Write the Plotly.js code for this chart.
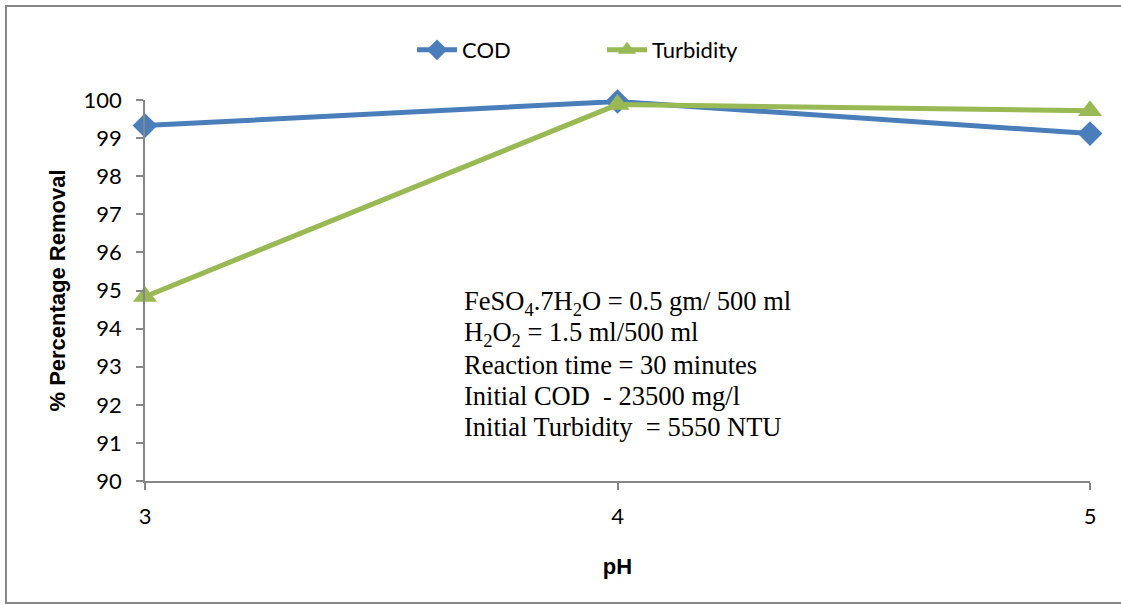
<!DOCTYPE html>
<html>
<head>
<meta charset="utf-8">
<script src="https://cdn.plot.ly/plotly-3.0.1.min.js"></script>
<style>
html,body{margin:0;padding:0;background:#fff;overflow:hidden;}
#wrap{position:relative;width:1121px;height:605px;overflow:hidden;}
#chart{position:absolute;left:0;top:0;width:1121px;height:605px;}
#frame{position:absolute;left:5px;top:5px;width:1125px;height:599px;border:2px solid #868686;box-sizing:border-box;pointer-events:none;}
</style>
</head>
<body>
<div id="wrap"><div id="chart"></div><div id="frame"></div></div>
<script>
const pH = [3, 4, 5];
const codRemoval = [99.33, 99.96, 99.12];
const turbidityRemoval = [94.84, 99.88, 99.72];
const yTicks = [90, 91, 92, 93, 94, 95, 96, 97, 98, 99, 100];
const xTicks = [3, 4, 5];
const noteLines = [
  'FeSO<sub>4</sub>.7H<sub>2</sub>O = 0.5 gm/ 500 ml',
  'H<sub>2</sub>O<sub>2</sub> = 1.5 ml/500 ml',
  'Reaction time = 30 minutes',
  'Initial COD  - 23500 mg/l',
  'Initial Turbidity  = 5550 NTU'
];

const traces = [
  {x: pH, y: codRemoval, name: 'COD', type: 'scatter', mode: 'lines+markers', cliponaxis: false,
   line: {color: '#4a7ebb', width: 5},
   marker: {symbol: 'diamond', size: 19, color: '#4a7ebb'}},
  {x: pH, y: turbidityRemoval, name: 'Turbidity', type: 'scatter', mode: 'lines+markers', cliponaxis: false,
   line: {color: '#98b954', width: 5},
   marker: {symbol: 'triangle-up', size: 21, color: '#98b954'}}
];

const annotations = noteLines.map((t, i) => ({
  xref: 'paper', yref: 'paper', x: (462 - 145) / 945, y: (481 - 303 - i * 31) / 381,
  xanchor: 'left', yanchor: 'middle', showarrow: false, align: 'left',
  text: t, font: {family: 'Liberation Serif, Times New Roman, serif', size: 26.5, color: '#000'}
}));

const tickFont = {size: 22, family: 'Lato, Open Sans, sans-serif', color: '#000'};

const layout = {
  width: 1121, height: 605,
  margin: {l: 145, r: 31, t: 100, b: 124},
  paper_bgcolor: '#fff', plot_bgcolor: '#fff',
  font: {family: 'Liberation Sans, Arial, sans-serif', color: '#000'},
  showlegend: true,
  legend: {orientation: 'h', x: (412 - 145) / 945, xanchor: 'left', y: (481 - 50) / 381, yanchor: 'middle',
           font: {size: 22, family: 'Lato, Open Sans, sans-serif', color: '#000'},
           entrywidth: 135, entrywidthmode: 'pixels', itemwidth: 40, bgcolor: 'rgba(0,0,0,0)'},
  xaxis: {range: [3, 5], tickvals: xTicks, ticktext: xTicks.map(String),
          showgrid: false, zeroline: false, showline: true, linecolor: '#868686', linewidth: 1.5,
          ticks: 'outside', ticklen: 7, tickcolor: '#868686', tickwidth: 1.5,
          ticklabelstandoff: 8, tickfont: tickFont,
          title: {text: '<b>pH</b>', font: {size: 22, family: 'Liberation Sans, Arial, sans-serif'}, standoff: 30}},
  yaxis: {range: [90, 100], tickvals: yTicks, ticktext: yTicks.map(String),
          showgrid: false, zeroline: false, showline: true, linecolor: '#868686', linewidth: 1.5,
          ticks: 'outside', ticklen: 7, tickcolor: '#868686', tickwidth: 1.5,
          ticklabelstandoff: 10, tickfont: tickFont,
          title: {text: '<b>% Percentage Removal</b>', font: {size: 22, family: 'Liberation Sans, Arial, sans-serif'}, standoff: 12}},
  annotations: annotations
};

Plotly.newPlot('chart', traces, layout, {displayModeBar: false, responsive: false});
</script>
</body>
</html>
